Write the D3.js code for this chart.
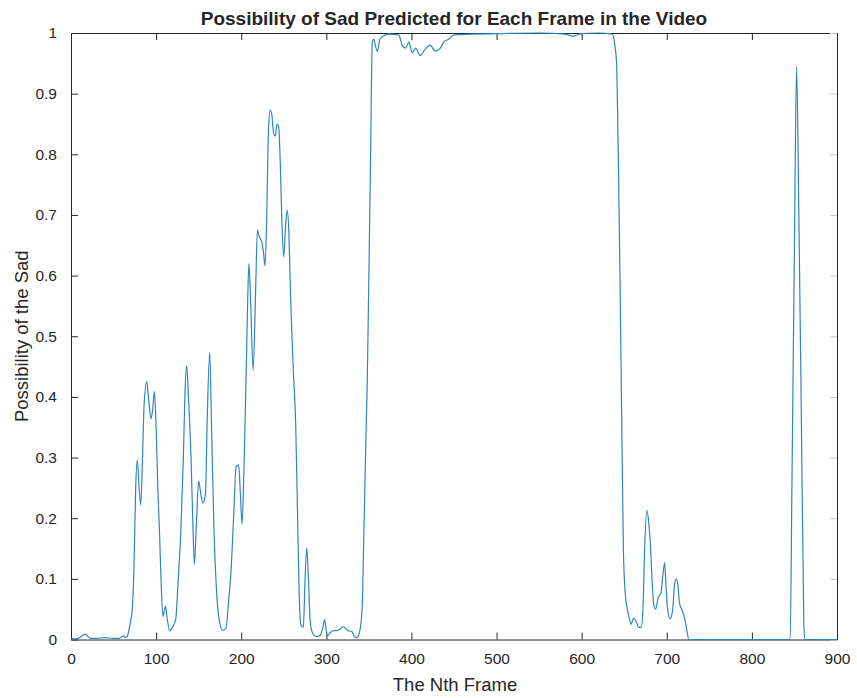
<!DOCTYPE html>
<html>
<head>
<meta charset="utf-8">
<script src="https://cdn.jsdelivr.net/npm/d3@7"></script>
<style>
  body { margin: 0; background: #fff; }
  text { font-family: "Liberation Sans", Arial, sans-serif; fill: #262626; }
</style>
</head>
<body>
<svg id="svg"></svg>
<script>
////////////////////////////////////////////////////////////////////////
// Data (frame number, possibility of sad)

let frames = [
  0, 5, 10, 14, 17, 20, 23, 30, 40, 50, 57, 60, 62, 64, 66, 68, 70, 72, 74, 76,
  78, 80, 82, 84, 86, 89, 91, 94, 96, 98, 100, 102, 104, 106, 108, 111, 113, 116, 119, 123,
  126, 129, 132, 134, 136, 138, 141, 143, 145, 147, 150, 152, 155, 158, 160, 163, 165, 168, 171, 174,
  178, 182, 185, 188, 191, 194, 197, 199, 201, 203, 205, 207, 209, 211, 214, 217, 219, 221, 224, 226,
  228, 230, 232, 234, 236, 238, 240, 242, 244, 246, 248, 250, 252, 254, 256, 258, 261, 264, 266, 268,
  270, 273, 275, 277, 279, 281, 284, 288, 292, 296, 298, 301, 304, 307, 313, 317, 320, 325, 330, 333,
  336, 339, 342, 344, 346, 348, 350, 352, 354, 356, 358, 360, 363, 367, 372, 385, 389, 393, 397, 401,
  405, 410, 416, 422, 428, 434, 438, 444, 450, 470, 500, 550, 580, 590, 600, 620, 636, 639, 641, 643,
  645, 647, 649, 651, 653, 656, 658, 661, 664, 667, 670, 672, 674, 676.5, 679, 681, 683, 685, 687, 690,
  693, 695, 697.5, 699, 701, 704, 707, 709, 711, 713, 715, 718, 721, 723, 726, 760, 800, 845, 847, 850,
  852.5, 855, 858, 861, 862, 880, 900
];

let sadValues = [
  0.002, 0.001, 0.003, 0.007, 0.009, 0.005, 0.002, 0.002, 0.003, 0.002, 0.002, 0.005, 0.006, 0.003, 0.005, 0.015, 0.03, 0.05, 0.12, 0.25,
  0.296, 0.25, 0.222, 0.30, 0.39, 0.425, 0.40, 0.364, 0.38, 0.409, 0.35, 0.25, 0.176, 0.09, 0.038, 0.055, 0.035, 0.014, 0.02, 0.033,
  0.10, 0.176, 0.30, 0.41, 0.451, 0.40, 0.30, 0.20, 0.124, 0.18, 0.261, 0.245, 0.225, 0.24, 0.36, 0.474, 0.36, 0.18, 0.08, 0.033,
  0.015, 0.018, 0.06, 0.112, 0.20, 0.285, 0.288, 0.24, 0.19, 0.27, 0.384, 0.52, 0.62, 0.56, 0.444, 0.58, 0.675, 0.665, 0.656, 0.64,
  0.616, 0.70, 0.84, 0.873, 0.865, 0.835, 0.83, 0.85, 0.845, 0.78, 0.68, 0.631, 0.68, 0.708, 0.67, 0.565, 0.45, 0.354, 0.22, 0.08,
  0.025, 0.02, 0.10, 0.151, 0.10, 0.03, 0.01, 0.005, 0.006, 0.02, 0.033, 0.006, 0.01, 0.014, 0.015, 0.018, 0.021, 0.015, 0.013, 0.005,
  0.003, 0.012, 0.05, 0.17, 0.30, 0.42, 0.60, 0.80, 0.985, 0.99, 0.977, 0.97, 0.99, 0.995, 0.998, 0.997, 0.98, 0.975, 0.985, 0.967,
  0.975, 0.963, 0.973, 0.98, 0.97, 0.975, 0.985, 0.99, 0.997, 0.998, 0.999, 1.0, 0.998, 0.995, 0.999, 1.0, 0.998, 0.98, 0.95, 0.80,
  0.60, 0.37, 0.15, 0.08, 0.055, 0.035, 0.025, 0.035, 0.03, 0.02, 0.02, 0.05, 0.15, 0.213, 0.19, 0.15, 0.09, 0.055, 0.05, 0.07,
  0.076, 0.10, 0.127, 0.09, 0.05, 0.034, 0.05, 0.09, 0.10, 0.09, 0.06, 0.048, 0.035, 0.02, 0, 0, 0, 0, 0.25, 0.65,
  0.945, 0.72, 0.38, 0.03, 0, 0, 0
];

let xTicks = [0, 100, 200, 300, 400, 500, 600, 700, 800, 900];
let yTicks = [0, 0.1, 0.2, 0.3, 0.4, 0.5, 0.6, 0.7, 0.8, 0.9, 1];

let titleText = "Possibility of Sad Predicted for Each Frame in the Video";
let xLabelText = "The Nth Frame";
let yLabelText = "Possibility of the Sad";


////////////////////////////////////////////////////////////////////////
// Layout

let width = 857, height = 698;
let plot = { x1: 71, x2: 837, y1: 33, y2: 639.5 };
let axisCol = "#262626";
let tickLen = 7;

let svg = d3.select("#svg")
            .attr("width", width)
            .attr("height", height);

let xScale = d3.scaleLinear().domain([0, 900]).range([plot.x1, plot.x2]);
let yScale = d3.scaleLinear().domain([0, 1]).range([plot.y2, plot.y1]);


////////////////////////////////////////////////////////////////////////
// Axes (MATLAB style: ticks inside, box on)

let fmt = d => d3.format("")(+d.toFixed(1));

svg.append("g")
   .attr("transform", `translate(0,${plot.y2})`)
   .call(d3.axisBottom(xScale).tickValues(xTicks).tickSizeInner(-tickLen).tickSizeOuter(0).tickPadding(13))
   .call(g => g.select(".domain").attr("stroke", axisCol))
   .call(g => g.selectAll("line").attr("stroke", axisCol))
   .call(g => g.selectAll("text").attr("font-size", 15.5).attr("fill", axisCol)
                .attr("font-family", "'Liberation Sans', Arial, sans-serif"));

svg.append("g")
   .attr("transform", `translate(${plot.x1},0)`)
   .call(d3.axisLeft(yScale).tickValues(yTicks).tickFormat(fmt).tickSizeInner(-tickLen).tickSizeOuter(0).tickPadding(14))
   .call(g => g.select(".domain").attr("stroke", axisCol))
   .call(g => g.selectAll("line").attr("stroke", axisCol))
   .call(g => g.selectAll("text").attr("font-size", 15.5).attr("fill", axisCol)
                .attr("font-family", "'Liberation Sans', Arial, sans-serif"));

// top edge with ticks pointing down
svg.append("g")
   .attr("transform", `translate(0,${plot.y1})`)
   .call(d3.axisTop(xScale).tickValues(xTicks).tickSizeInner(-tickLen).tickSizeOuter(0).tickFormat(""))
   .call(g => g.select(".domain").attr("stroke", axisCol))
   .call(g => g.selectAll("line").attr("stroke", axisCol));

// right edge, ticks pointing left
svg.append("g")
   .attr("transform", `translate(${plot.x2},0)`)
   .call(d3.axisRight(yScale).tickValues(yTicks).tickSizeInner(-tickLen).tickSizeOuter(0).tickFormat(""))
   .call(g => g.select(".domain").attr("stroke", axisCol))
   .call(g => g.selectAll("line").attr("stroke", "#c8c8c8"));


////////////////////////////////////////////////////////////////////////
// The line

let points = frames.map((f, i) => [f, sadValues[i]]);

let line = d3.line()
             .x(d => xScale(d[0]))
             .y(d => yScale(d[1]))
             .curve(d3.curveMonotoneX);

svg.append("path")
   .datum(points)
   .attr("d", line)
   .attr("fill", "none")
   .attr("stroke", "#2e86c1")
   .attr("stroke-width", 1.2);


////////////////////////////////////////////////////////////////////////
// Labels

svg.append("text")
   .attr("x", (plot.x1 + plot.x2) / 2)
   .attr("y", 25)
   .attr("text-anchor", "middle")
   .attr("font-size", 19)
   .attr("font-weight", "bold")
   .attr("fill", "#000")
   .text(titleText);

svg.append("text")
   .attr("x", (plot.x1 + plot.x2) / 2 + 1)
   .attr("y", 691)
   .attr("text-anchor", "middle")
   .attr("font-size", 18.5)
   .text(xLabelText);

svg.append("text")
   .attr("transform", `translate(28,${(plot.y1 + plot.y2) / 2}) rotate(-90)`)
   .attr("text-anchor", "middle")
   .attr("font-size", 18.5)
   .text(yLabelText);
</script>
</body>
</html>
